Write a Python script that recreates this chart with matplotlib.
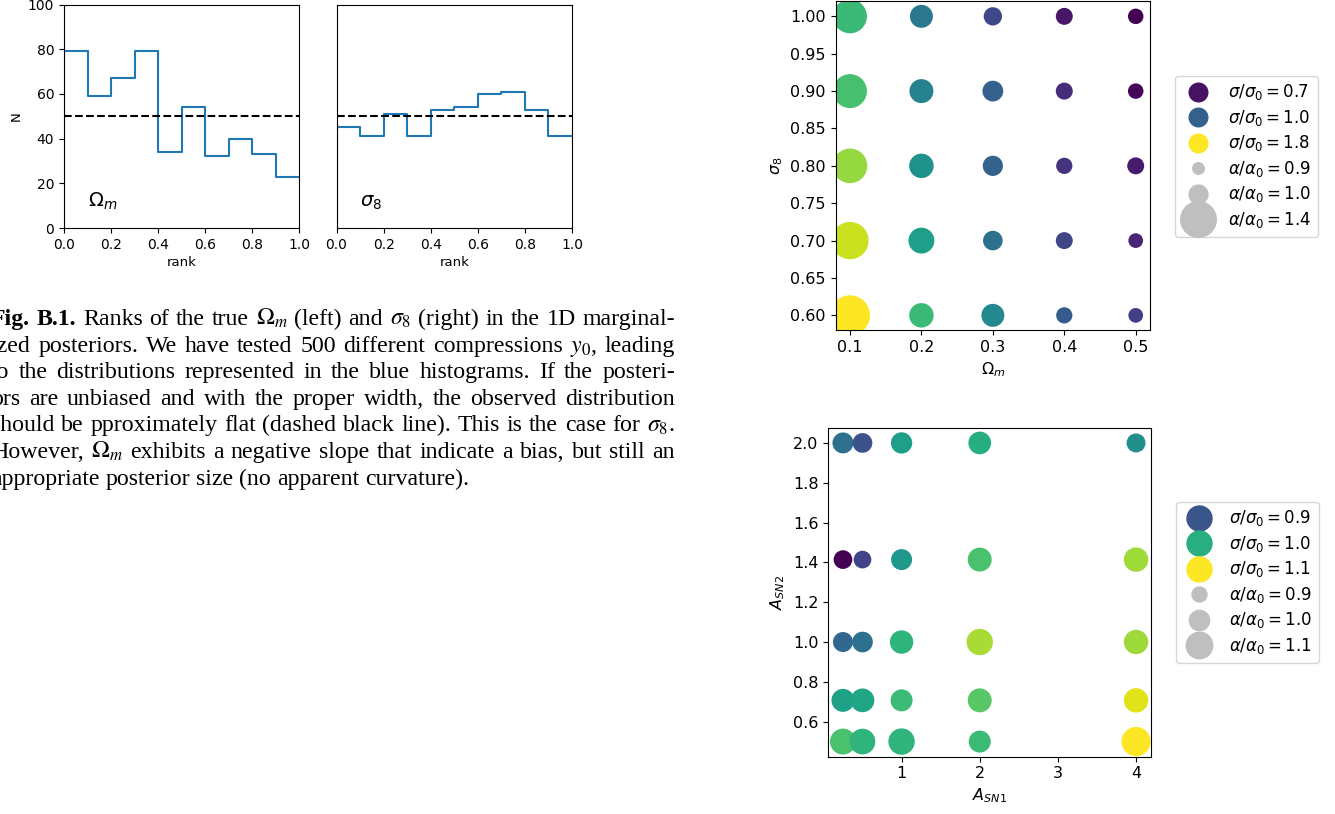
import numpy as np
import matplotlib.pyplot as plt
from matplotlib.lines import Line2D
from matplotlib.colors import Normalize
from matplotlib.transforms import IdentityTransform

# --- data -----------------------------------------------------------------
rank_edges = np.linspace(0, 1, 11)
counts_om = [79, 59, 67, 79, 34, 54, 32, 40, 33, 23]
counts_s8 = [45, 41, 51, 41, 53, 54, 60, 61, 53, 41]
flat_level = 50

# grid of fiducial cosmologies (rows: sigma8, cols: Omega_m)
om_grid = [0.1, 0.2, 0.3, 0.4, 0.5]
s8_grid = [0.6, 0.7, 0.8, 0.9, 1.0]
sig_ratio_cosmo = [
    [1.80, 1.43, 1.19, 0.98, 0.86],
    [1.71, 1.29, 1.08, 0.89, 0.77],
    [1.62, 1.23, 1.01, 0.82, 0.73],
    [1.46, 1.16, 1.00, 0.79, 0.66],
    [1.43, 1.11, 0.90, 0.72, 0.65],
]
alpha_ratio_cosmo = [
    [1.50, 1.08, 1.05, 0.94, 0.92],
    [1.41, 1.11, 0.99, 0.95, 0.92],
    [1.33, 1.08, 1.00, 0.94, 0.95],
    [1.31, 1.07, 1.01, 0.95, 0.93],
    [1.31, 1.05, 0.97, 0.95, 0.93],
]
legend_sig_cosmo = [0.7, 1.0, 1.8]
legend_alpha_cosmo = [0.9, 1.0, 1.4]

# grid of astrophysical feedback parameters (rows: A_SN2, cols: A_SN1)
asn1_grid = [0.25, 0.5, 1.0, 2.0, 4.0]
asn2_grid = [0.5, 0.707, 1.0, 1.414, 2.0]
sig_ratio_astro = [
    [1.022, 1.006, 1.006, 1.014, 1.100],
    [0.984, 0.989, 1.014, 1.030, 1.087],
    [0.919, 0.930, 1.006, 1.065, 1.060],
    [0.830, 0.884, 0.973, 1.022, 1.062],
    [0.930, 0.898, 0.981, 0.997, 0.965],
]
alpha_ratio_astro = [
    [1.071, 1.067, 1.078, 1.006, 1.120],
    [1.023, 1.035, 1.006, 1.039, 1.046],
    [0.970, 0.983, 1.030, 1.078, 1.046],
    [0.946, 0.927, 0.988, 1.039, 1.047],
    [0.988, 0.965, 0.994, 1.018, 0.952],
]
legend_sig_astro = [0.9, 1.0, 1.1]
legend_alpha_astro = [0.9, 1.0, 1.1]

caption_lines = [
    r"Fig. B.1. Ranks of the true $\Omega_m$ (left) and $\sigma_8$ (right) in the 1D marginal-",
    r"ized posteriors. We have tested 500 different compressions $y_0$, leading",
    r"to the distributions represented in the blue histograms. If the posteri-",
    r"ors are unbiased and with the proper width, the observed distribution",
    r"should be pproximately flat (dashed black line). This is the case for $\sigma_8$.",
    r"However, $\Omega_m$ exhibits a negative slope that indicate a bias, but still an",
    r"appropriate posterior size (no apparent curvature).",
]

# --- figure ----------------------------------------------------------------
W, H = 1335, 814
fig = plt.figure(figsize=(W / 100, H / 100), dpi=100)
cmap = plt.get_cmap("viridis")


def px_axes(left, top, right, bottom):
    return fig.add_axes([left / W, 1 - bottom / H, (right - left) / W, (bottom - top) / H])


# rank histograms
ax1 = px_axes(64, 4.5, 299, 228)
ax2 = px_axes(336.5, 4.5, 572, 228)
for ax, counts, name in [(ax1, counts_om, r"$\Omega_m$"), (ax2, counts_s8, r"$\sigma_8$")]:
    # step outline: rises from 0 at the left edge, no drop at the right edge
    xs = np.r_[rank_edges[0], rank_edges]
    ys = np.r_[0, counts, counts[-1]]
    ax.step(xs, ys, where="post", color="#1f77b4", lw=1.5)
    ax.axhline(flat_level, color="k", ls="--", lw=1.5)
    ax.set_xlim(0, 1)
    ax.set_ylim(0, 100)
    ax.set_xlabel("rank", fontsize=9.5, labelpad=3)
    ax.tick_params(labelsize=10)
    ax.text(0.1, 9.5, name, fontsize=14)
ax1.set_ylabel("N", fontsize=9.5)
ax2.set_yticks([])


def size_cosmo(a):
    return 1244 * (np.asarray(a) - 0.83)


def size_astro(a):
    return 243 * np.asarray(a) ** 5.3


def grid_scatter(ax, xs, ys, sig, alp, size_fn):
    X, Y = np.meshgrid(xs, ys)
    sig = np.asarray(sig)
    norm = Normalize(sig.min(), sig.max())
    ax.scatter(X.ravel(), Y.ravel(), c=sig.ravel(), s=size_fn(np.ravel(alp)),
               cmap=cmap, norm=norm, linewidths=0)
    ax.tick_params(labelsize=11.5)
    return norm


def add_legend(ax, norm, sig_vals, alpha_vals, size_fn, color_ms, anchor):
    handles = []
    for v in sig_vals:
        handles.append(Line2D([], [], ls="", marker="o", ms=color_ms, mfc=cmap(norm(v)),
                              mec="none", label=rf"$\sigma/\sigma_0 = {v:.1f}$"))
    for a in alpha_vals:
        handles.append(Line2D([], [], ls="", marker="o", ms=float(np.sqrt(size_fn(a))),
                              mfc="0.75", mec="none", label=rf"$\alpha/\alpha_0 = {a:.1f}$"))
    ax.legend(handles=handles, loc="upper left", bbox_to_anchor=(anchor[0] / W, 1 - anchor[1] / H),
              bbox_transform=fig.transFigure, borderaxespad=0, fontsize=12, labelspacing=0.33)


ax3 = px_axes(835.7, 1.4, 1150, 330.3)
norm3 = grid_scatter(ax3, om_grid, s8_grid, sig_ratio_cosmo, alpha_ratio_cosmo, size_cosmo)
ax3.set_yticks(np.arange(0.6, 1.001, 0.05))
ax3.set_xlabel(r"$\Omega_m$", fontsize=11.5)
ax3.set_ylabel(r"$\sigma_8$", fontsize=11.5)
add_legend(ax3, norm3, legend_sig_cosmo, legend_alpha_cosmo, size_cosmo, 14.4, (1175, 75.7))

ax4 = px_axes(828.3, 428, 1150.7, 756.5)
norm4 = grid_scatter(ax4, asn1_grid, asn2_grid, sig_ratio_astro, alpha_ratio_astro, size_astro)
ax4.set_xticks([1, 2, 3, 4])
ax4.set_xlabel(r"$A_{SN1}$", fontsize=11.5)
ax4.set_ylabel(r"$A_{SN2}$", fontsize=11.5)
add_legend(ax4, norm4, legend_sig_astro, legend_alpha_astro, size_astro, 19, (1176, 501.7))

# caption, justified word by word (page is cropped on the left)
renderer = fig.canvas.get_renderer()
cap_fs = 17.2
x_left, x_right = -9, 675
first_base, line_step = 325, 26.6
space = 0.25 * cap_fs * 100 / 72
for i, line in enumerate(caption_lines):
    words = line.split(" ")
    texts = []
    for j, w in enumerate(words):
        bold = i == 0 and j < 2
        t = fig.text(0, 0, w, fontsize=cap_fs, family="Liberation Serif",
                     weight="bold" if bold else "normal", math_fontfamily="stix",
                     transform=IdentityTransform(), va="baseline")
        texts.append(t)
    widths = [t.get_window_extent(renderer).width for t in texts]
    if i < len(caption_lines) - 1:
        gap = (x_right - x_left - sum(widths)) / (len(words) - 1)
    else:
        gap = space
    x = x_left
    for t, wd in zip(texts, widths):
        t.set_position((x, H - (first_base + i * line_step)))
        x += wd + gap

fig.savefig("out.png", dpi=100)
